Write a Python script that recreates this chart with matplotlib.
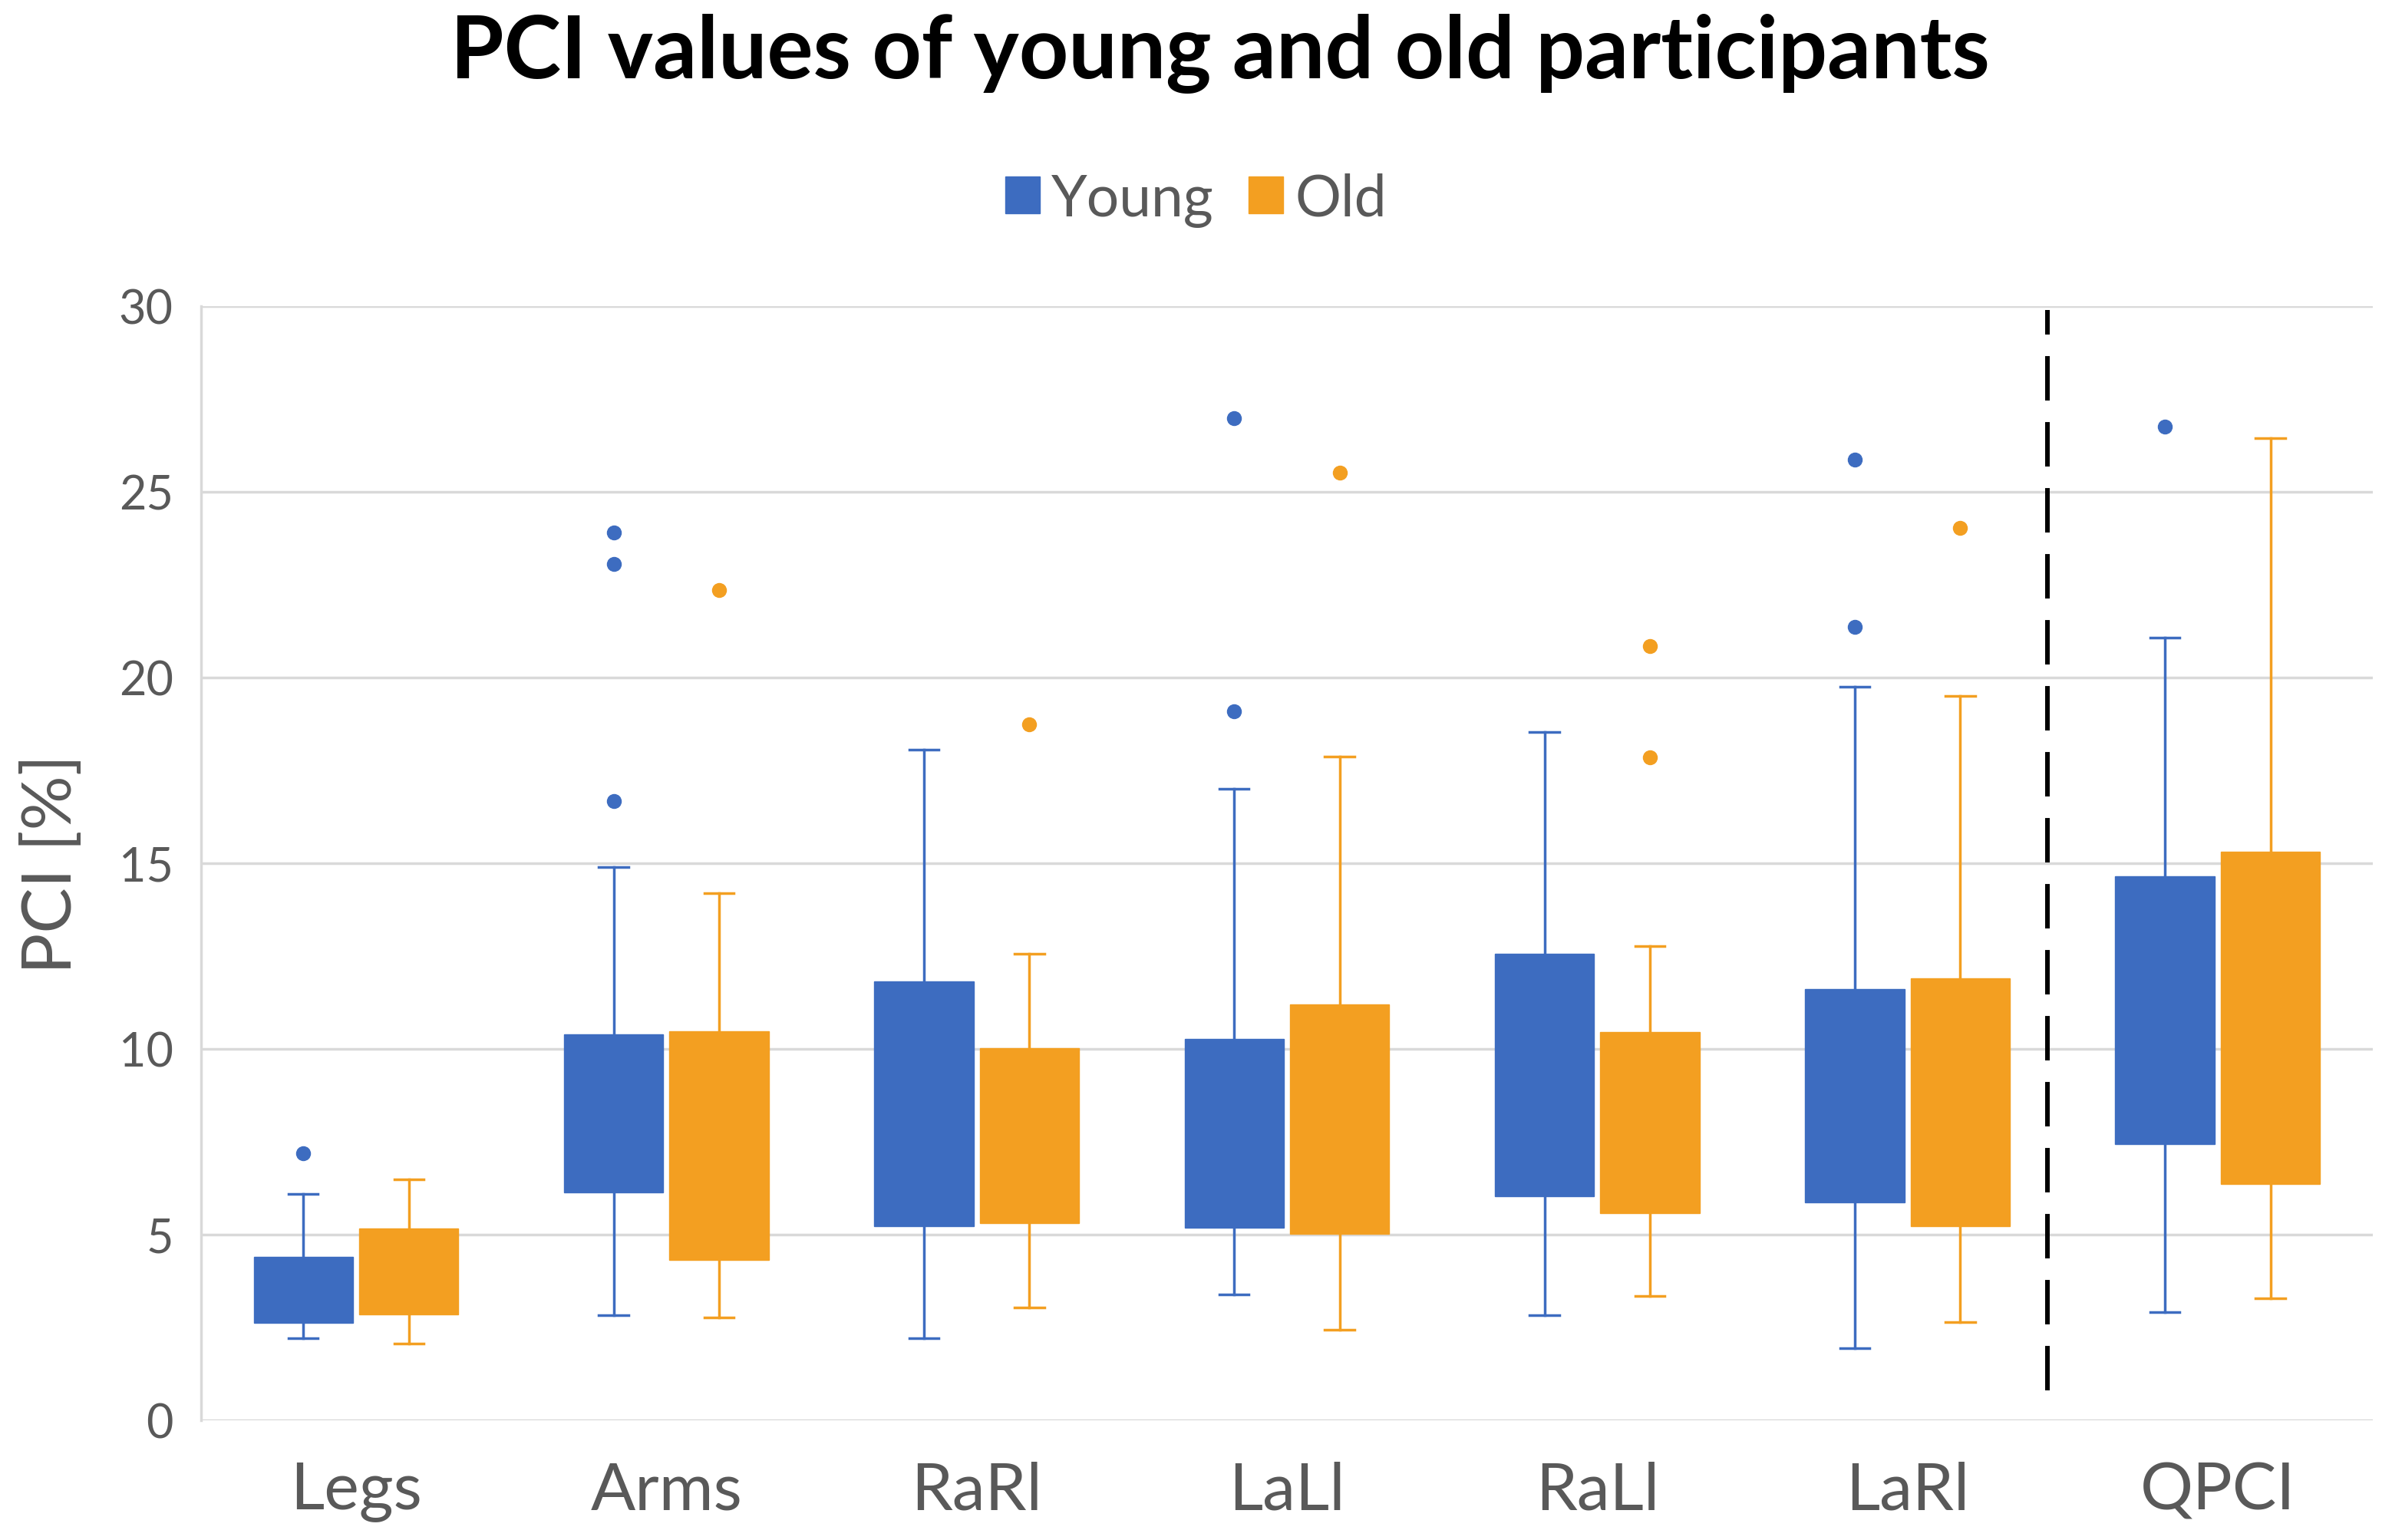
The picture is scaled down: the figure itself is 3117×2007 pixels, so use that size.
import matplotlib
matplotlib.use('Agg')
import matplotlib.pyplot as plt
from matplotlib.patches import Patch

plt.rcParams['font.family'] = ['Lato', 'DejaVu Sans']

categories = ['Legs', 'Arms', 'RaRl', 'LaLl', 'RaLl', 'LaRl', 'QPCI']

# values (PCI in %)
young_whislo = [2.22, 2.83, 2.22, 3.39, 2.83, 1.95, 2.91]
young_q1 = [2.63, 6.14, 5.23, 5.19, 6.03, 5.87, 7.43]
young_q3 = [4.41, 10.40, 11.82, 10.26, 12.56, 11.62, 14.65]
young_whishi = [6.09, 14.90, 18.06, 17.01, 18.53, 19.76, 21.08]
young_fliers = [[7.18], [23.9, 23.05, 16.68], [], [26.99, 19.1], [], [25.86, 21.36], [26.76]]

old_whislo = [2.07, 2.77, 3.04, 2.44, 3.35, 2.65, 3.28]
old_q1 = [2.85, 4.31, 5.31, 5.03, 5.58, 5.23, 6.36]
old_q3 = [5.17, 10.47, 10.01, 11.20, 10.45, 11.90, 15.31]
old_whishi = [6.48, 14.20, 12.56, 17.87, 12.76, 19.50, 26.45]
old_fliers = [[], [22.35], [18.74], [25.51], [20.85, 17.85], [24.03], []]

blue = '#3D6CC0'
orange = '#F39F21'
grey_text = '#595959'


def make_stats(lo, q1, q3, hi, fl):
    stats = []
    for i in range(len(lo)):
        stats.append({'whislo': lo[i], 'q1': q1[i], 'med': q1[i], 'q3': q3[i],
                      'whishi': hi[i], 'fliers': fl[i]})
    return stats


fig = plt.figure(figsize=(31.17, 20.08), dpi=100)
ax = fig.add_axes([0.084, 0.0777, 0.908, 0.7231])

width = 0.32
offset = 0.17
for stats, color, sign in [(make_stats(young_whislo, young_q1, young_q3, young_whishi, young_fliers), blue, -1),
                           (make_stats(old_whislo, old_q1, old_q3, old_whishi, old_fliers), orange, 1)]:
    pos = [i + sign * offset for i in range(len(categories))]
    ax.bxp(stats, positions=pos, widths=width, patch_artist=True, capwidths=0.095,
           boxprops=dict(facecolor=color, edgecolor=color, linewidth=1),
           whiskerprops=dict(color=color, linewidth=2.5),
           capprops=dict(color=color, linewidth=2.5),
           medianprops=dict(visible=False),
           flierprops=dict(marker='o', markersize=13, markerfacecolor=color, markeredgecolor=color),
           manage_ticks=False, zorder=3)

# separator between the limb pairs and QPCI
ax.plot([5.45, 5.45], [0.8, 29.9], color='black', linewidth=4.3,
        linestyle=(0, (9.7, 4.7)), zorder=4)

ax.set_xlim(-0.5, 6.5)
ax.set_ylim(0, 30)
ax.set_yticks(range(0, 31, 5))
ax.set_xticks(range(len(categories)))
ax.set_xticklabels(categories)
ax.yaxis.grid(True, color='#D9D9D9', linewidth=2.5, zorder=0)
ax.set_axisbelow(True)
for side in ['top', 'right', 'bottom']:
    ax.spines[side].set_visible(False)
ax.spines['left'].set_color('#D9D9D9')
ax.spines['left'].set_linewidth(2.5)
ax.tick_params(axis='y', length=0, pad=26, labelsize=44, labelcolor=grey_text)
ax.tick_params(axis='x', length=0, pad=38, labelsize=62, labelcolor=grey_text)

ax.set_ylabel('PCI [%]', fontsize=64, color=grey_text)
ax.yaxis.set_label_coords(-0.054, 0.5)

fig.suptitle('PCI values of young and old participants', fontsize=81,
             fontweight='bold', x=0.51, y=0.965, va='center')

handles = [Patch(facecolor=blue, edgecolor=blue), Patch(facecolor=orange, edgecolor=orange)]
fig.legend(handles, ['Young', 'Old'], loc='center', bbox_to_anchor=(0.5, 0.87), ncol=2,
           frameon=False, fontsize=54, labelcolor=grey_text, handlelength=0.6,
           handleheight=0.6, handletextpad=0.2, columnspacing=0.6)

fig.savefig('out.png', dpi=100)
